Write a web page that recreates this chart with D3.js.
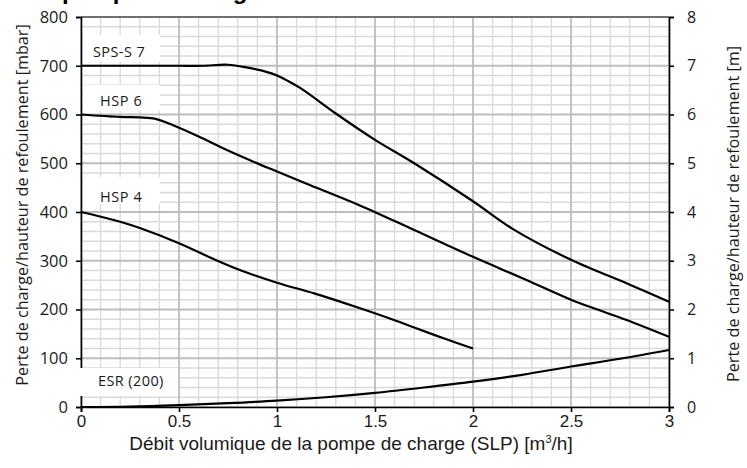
<!DOCTYPE html>
<html>
<head>
<meta charset="utf-8">
<script src="https://cdn.jsdelivr.net/npm/d3@7"></script>
<style>
  body { margin: 0; background: #fff; }
  svg { display: block; }
</style>
</head>
<body>
<div id="chart"></div>
<script>
// flow rate [m3/h] and head [mbar]
const sps7Flow = [0, 0.25, 0.5, 0.62, 0.75, 0.85, 0.95, 1.0, 1.05, 1.12, 1.3, 1.5, 1.7, 2.0, 2.2, 2.5, 2.8, 3.0];
const sps7Head = [700, 700, 700, 700, 702, 696, 687, 680, 670, 654, 602, 548, 500, 422, 366, 302, 251, 216];

const hsp6Flow = [0, 0.2, 0.3, 0.38, 0.47, 0.6, 0.75, 0.88, 1.0, 1.17, 1.42, 1.7, 2.0, 2.27, 2.5, 2.62, 2.78, 3.0];
const hsp6Head = [600, 595, 594, 591, 578, 555, 526, 503, 483, 455, 414, 363, 308, 261, 220, 202, 179, 144];

const hsp4Flow = [0, 0.2, 0.3, 0.5, 0.69, 0.81, 1.0, 1.19, 1.42, 1.6, 1.7, 1.85, 2.0];
const hsp4Head = [400, 380, 367, 336, 301, 281, 255, 233, 203, 178, 163, 141, 120];

const esrFlow = [0, 0.25, 0.5, 0.75, 1.0, 1.25, 1.5, 1.75, 2.0, 2.25, 2.5, 2.75, 3.0];
const esrHead = [0, 1, 4, 8, 13, 20, 29, 40, 52, 66, 83, 99, 117];

const seriesNames = ["SPS-S 7", "HSP 6", "HSP 4", "ESR (200)"];
const xTickLabels = ["0", "0.5", "1", "1.5", "2", "2.5", "3"];
const xTickValues = [0, 0.5, 1, 1.5, 2, 2.5, 3];
const yLeftTicks = [0, 100, 200, 300, 400, 500, 600, 700, 800];
const yRightTicks = [0, 1, 2, 3, 4, 5, 6, 7, 8];

const width = 747, height = 468;
const margin = { top: 17, right: 78, bottom: 61, left: 81 };

const svg = d3.select("#chart").append("svg")
    .attr("width", width)
    .attr("height", height);

const x = d3.scaleLinear().domain([0, 3]).range([margin.left, width - margin.right]);
const y = d3.scaleLinear().domain([0, 800]).range([height - margin.bottom, margin.top]);
const y2 = d3.scaleLinear().domain([0, 8]).range([height - margin.bottom, margin.top]);

// title, cut off at the top edge (only descenders show)
svg.append("text")
    .attr("x", 62).attr("y", -1)
    .attr("font-family", "Liberation Sans, Arial, sans-serif")
    .attr("font-weight", "bold")
    .attr("font-size", 24)
    .text("pompe de charge");

// grid
const grid = svg.append("g");
const minorX = d3.range(0, 31).map(i => i / 10);
const minorY = d3.range(0, 41).map(i => i * 20);

grid.selectAll(".mx").data(minorX.filter((d, i) => i % 5 !== 0)).join("line")
    .attr("x1", d => x(d)).attr("x2", d => x(d))
    .attr("y1", y(0)).attr("y2", y(800))
    .attr("stroke", "#d9d9d9").attr("stroke-width", 1.3);
grid.selectAll(".my").data(minorY.filter((d, i) => i % 5 !== 0)).join("line")
    .attr("x1", x(0)).attr("x2", x(3))
    .attr("y1", d => y(d)).attr("y2", d => y(d))
    .attr("stroke", "#d9d9d9").attr("stroke-width", 1.3);
grid.selectAll(".Mx").data(xTickValues).join("line")
    .attr("x1", d => x(d)).attr("x2", d => x(d))
    .attr("y1", y(0)).attr("y2", y(800))
    .attr("stroke", "#bdbdbd").attr("stroke-width", 1.8);
grid.selectAll(".My").data(yLeftTicks).join("line")
    .attr("x1", x(0)).attr("x2", x(3))
    .attr("y1", d => y(d)).attr("y2", d => y(d))
    .attr("stroke", "#bdbdbd").attr("stroke-width", 1.8);

// top border
svg.append("line")
    .attr("x1", x(0)).attr("x2", x(3))
    .attr("y1", y(800)).attr("y2", y(800))
    .attr("stroke", "#222").attr("stroke-width", 1.2);

// curves
const line = d3.line()
    .x(d => x(d[0]))
    .y(d => y(d[1]))
    .curve(d3.curveCatmullRom.alpha(0.5));

const curves = [
    d3.zip(sps7Flow, sps7Head),
    d3.zip(hsp6Flow, hsp6Head),
    d3.zip(hsp4Flow, hsp4Head),
    d3.zip(esrFlow, esrHead)
];

svg.append("g").selectAll("path").data(curves).join("path")
    .attr("d", line)
    .attr("fill", "none")
    .attr("stroke", "#000")
    .attr("stroke-width", 2.2);

// axes
const tickFont = "Open Sans, sans-serif";
const narrowFont = "Liberation Sans Narrow, Arial Narrow, sans-serif";

svg.append("g")
    .attr("transform", `translate(${x(0)},0)`)
    .call(d3.axisLeft(y).tickValues(yLeftTicks).tickSize(5).tickPadding(8))
    .call(g => g.selectAll("path, line").attr("stroke", "#000").attr("stroke-width", 1.6))
    .call(g => g.selectAll("text").attr("font-family", tickFont).attr("font-size", 16.5).attr("fill", "#1a1a1a"));

svg.append("g")
    .attr("transform", `translate(${x(3)},0)`)
    .call(d3.axisRight(y2).tickValues(yRightTicks).tickSize(5).tickPadding(13))
    .call(g => g.selectAll("path, line").attr("stroke", "#000").attr("stroke-width", 1.6))
    .call(g => g.selectAll("text").attr("font-family", tickFont).attr("font-size", 16).attr("fill", "#1a1a1a"));

svg.append("g")
    .attr("transform", `translate(0,${y(0)})`)
    .call(d3.axisBottom(x).tickValues(xTickValues).tickFormat((d, i) => xTickLabels[i]).tickSize(5).tickPadding(3))
    .call(g => g.selectAll("path, line").attr("stroke", "#000").attr("stroke-width", 1.6))
    .call(g => g.selectAll("text").attr("font-family", narrowFont).attr("font-size", 17).attr("fill", "#1a1a1a"));

// axis titles
svg.append("text")
    .attr("transform", `translate(28,205) rotate(-90)`)
    .attr("text-anchor", "middle")
    .attr("font-family", tickFont).attr("font-size", 16.2).attr("fill", "#1a1a1a")
    .text("Perte de charge/hauteur de refoulement [mbar]");

svg.append("text")
    .attr("transform", `translate(739,214) rotate(-90)`)
    .attr("text-anchor", "middle")
    .attr("font-family", tickFont).attr("font-size", 16.2).attr("fill", "#1a1a1a")
    .text("Perte de charge/hauteur de refoulement [m]");

const xt = svg.append("text")
    .attr("x", 351).attr("y", 450)
    .attr("text-anchor", "middle")
    .attr("font-family", narrowFont)
    .attr("font-size", 19).attr("fill", "#1a1a1a");
xt.append("tspan").text("Débit volumique de la pompe de charge (SLP) [m");
xt.append("tspan").attr("font-size", 11).attr("dy", -7).text("3");
xt.append("tspan").attr("dy", 7).text("/h]");

// curve labels on white boxes: box top/bottom, text x and baseline in pixels
const labelBox = [
    { x0: 83, x1: 160, y0: 35, y1: 62, tx: 93, ty: 57, ls: 0.4 },
    { x0: 83, x1: 160, y0: 85, y1: 111, tx: 100, ty: 106, ls: 0.6 },
    { x0: 83, x1: 160, y0: 177, y1: 204, tx: 100, ty: 202, ls: 0.6 },
    { x0: 79, x1: 178, y0: 368, y1: 396, tx: 98, ty: 386, ls: 0.4 }
];
const lab = svg.append("g").selectAll("g").data(seriesNames).join("g");
lab.append("rect")
    .attr("x", (d, i) => labelBox[i].x0)
    .attr("y", (d, i) => labelBox[i].y0)
    .attr("width", (d, i) => labelBox[i].x1 - labelBox[i].x0)
    .attr("height", (d, i) => labelBox[i].y1 - labelBox[i].y0)
    .attr("fill", "#fff");
lab.append("text")
    .attr("x", (d, i) => labelBox[i].tx)
    .attr("y", (d, i) => labelBox[i].ty)
    .attr("font-family", tickFont).attr("font-size", 14.5).attr("fill", "#1a1a1a")
    .attr("letter-spacing", (d, i) => labelBox[i].ls)
    .text(d => d);
</script>
</body>
</html>
